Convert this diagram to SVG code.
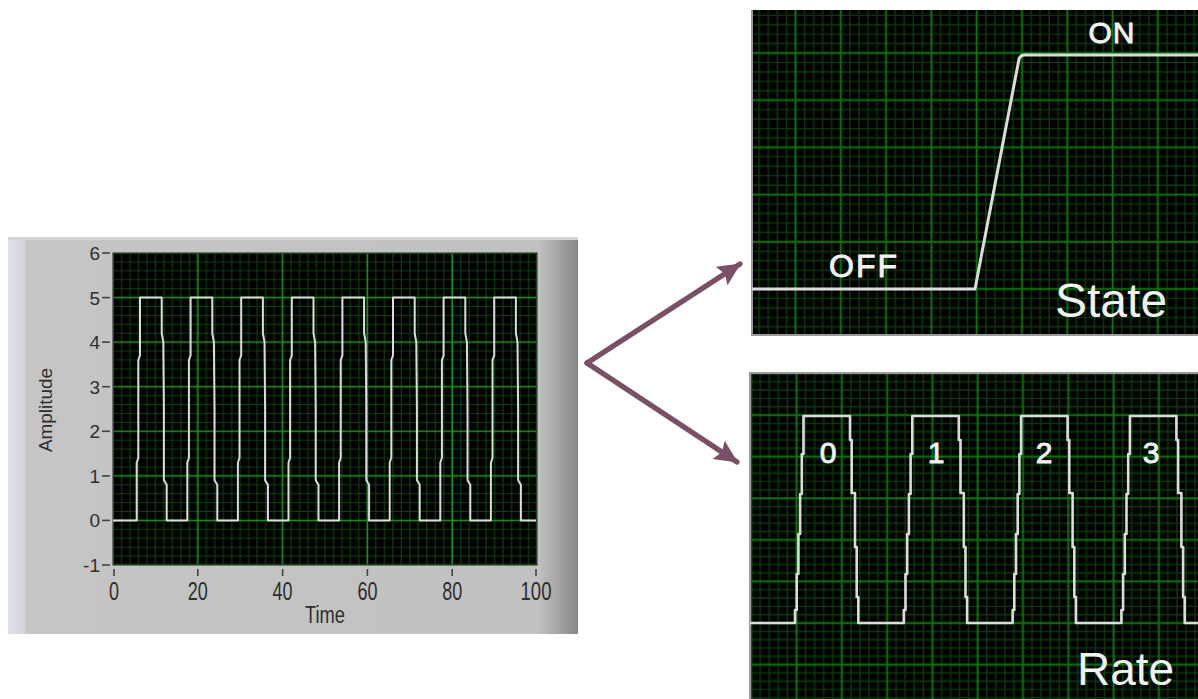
<svg xmlns="http://www.w3.org/2000/svg" width="1198" height="699" viewBox="0 0 1198 699">
<style>
.minor{stroke:#0c3a0c;stroke-width:1.4;fill:none}
.major{stroke:#0b750b;stroke-width:2;fill:none}
.majorL{stroke:#1d961d;stroke-width:1.6;fill:none}
.minorL{stroke:#0f3d0f;stroke-width:1.2;fill:none}
.wave{fill:none;stroke:#dcdcdc;stroke-linejoin:round}
.axis{font-family:"Liberation Sans",Arial,sans-serif;fill:#2e2e2e}
.scope{font-family:"Liberation Sans",Arial,sans-serif;fill:#f2f2f2}
.mid{stroke:#f2f2f2;stroke-width:0.9}
.tick{stroke:#444;stroke-width:1.6}
.conn{fill:none;stroke:#7a5068;stroke-width:5.2;stroke-linecap:round}
</style>
<defs>
<linearGradient id="panelGrad" x1="0" y1="0" x2="1" y2="0">
<stop offset="0" stop-color="#dfe3ea"/>
<stop offset="0.028" stop-color="#d2d5da"/>
<stop offset="0.032" stop-color="#c5c5c5"/>
<stop offset="0.93" stop-color="#c1c1c1"/>
<stop offset="1" stop-color="#888888"/>
</linearGradient>
<pattern id="gridL" patternUnits="userSpaceOnUse" x="108.76" y="248.543" width="84.8" height="44.57">
<rect width="84.8" height="44.57" fill="#000"/>
<path class="minorL" d="M12.72,0V44.57M21.2,0V44.57M29.68,0V44.57M38.16,0V44.57M46.64,0V44.57M55.12,0V44.57M63.6,0V44.57M72.08,0V44.57M80.56,0V44.57M0,13.371H84.8M0,22.285H84.8M0,31.199H84.8M0,40.113H84.8"/>
<path class="majorL" d="M4.24,0V44.57M0,4.457H84.8"/>
</pattern>
<pattern id="gridS" patternUnits="userSpaceOnUse" x="790.97" y="48.28" width="45.3" height="47.2">
<rect width="45.3" height="47.2" fill="#000"/>
<path class="minor" d="M13.59,0V47.2M22.65,0V47.2M31.71,0V47.2M40.77,0V47.2M0,14.16H45.3M0,23.6H45.3M0,33.04H45.3M0,42.48H45.3"/>
<path class="major" d="M4.53,0V47.2M0,4.72H45.3"/>
</pattern>
<pattern id="gridR" patternUnits="userSpaceOnUse" x="791.97" y="410.84" width="45.3" height="41.6">
<rect width="45.3" height="41.6" fill="#000"/>
<path class="minor" d="M13.59,0V41.6M22.65,0V41.6M31.71,0V41.6M40.77,0V41.6M0,12.48H45.3M0,20.8H45.3M0,29.12H45.3M0,37.44H45.3"/>
<path class="major" d="M4.53,0V41.6M0,4.16H45.3"/>
</pattern>
<marker id="arrow" markerUnits="userSpaceOnUse" markerWidth="26" markerHeight="24" refX="22" refY="11" orient="auto">
<path d="M0,0 L23,11 L0,22 L4,11 z" fill="#7a5068"/>
</marker>
</defs>
<rect width="1198" height="699" fill="#ffffff"/>

<g id="amplitude-chart">
<rect x="8" y="237" width="570" height="397" fill="url(#panelGrad)"/>
<rect x="8" y="237" width="570" height="3" fill="#d4d4d4"/>
<rect x="113" y="253" width="424" height="312" fill="url(#gridL)" stroke="#222" stroke-width="1"/>
<path class="wave" stroke-width="2" d="M113,520.4 H136.7
v-57.9 l1.6,-4.5 v-98 l1.7,-4.5 v-57.9 h21.7 v35.6 l1.6,8.9 l0.6,66.9 v71.3 l2.8,4.4 v35.7 h20.6
v-57.9 l1.6,-4.5 v-98 l1.7,-4.5 v-57.9 h21.7 v35.6 l1.6,8.9 l0.6,66.9 v71.3 l2.8,4.4 v35.7 h20.6
v-57.9 l1.6,-4.5 v-98 l1.7,-4.5 v-57.9 h21.7 v35.6 l1.6,8.9 l0.6,66.9 v71.3 l2.8,4.4 v35.7 h20.6
v-57.9 l1.6,-4.5 v-98 l1.7,-4.5 v-57.9 h21.7 v35.6 l1.6,8.9 l0.6,66.9 v71.3 l2.8,4.4 v35.7 h20.6
v-57.9 l1.6,-4.5 v-98 l1.7,-4.5 v-57.9 h21.7 v35.6 l1.6,8.9 l0.6,66.9 v71.3 l2.8,4.4 v35.7 h20.6
v-57.9 l1.6,-4.5 v-98 l1.7,-4.5 v-57.9 h21.7 v35.6 l1.6,8.9 l0.6,66.9 v71.3 l2.8,4.4 v35.7 h20.6
v-57.9 l1.6,-4.5 v-98 l1.7,-4.5 v-57.9 h21.7 v35.6 l1.6,8.9 l0.6,66.9 v71.3 l2.8,4.4 v35.7 h20.6
v-57.9 l1.6,-4.5 v-98 l1.7,-4.5 v-57.9 h21.7 v35.6 l1.6,8.9 l0.6,66.9 v71.3 l2.8,4.4 v35.7 H536"/>
<g class="tick">
<line x1="102" y1="253" x2="110" y2="253"/>
<line x1="102" y1="297.6" x2="110" y2="297.6"/>
<line x1="102" y1="342.1" x2="110" y2="342.1"/>
<line x1="102" y1="386.7" x2="110" y2="386.7"/>
<line x1="102" y1="431.3" x2="110" y2="431.3"/>
<line x1="102" y1="475.9" x2="110" y2="475.9"/>
<line x1="102" y1="520.4" x2="110" y2="520.4"/>
<line x1="102" y1="565" x2="110" y2="565"/>
<line x1="114" y1="569" x2="114" y2="576"/>
<line x1="197.8" y1="569" x2="197.8" y2="576"/>
<line x1="282.6" y1="569" x2="282.6" y2="576"/>
<line x1="367.4" y1="569" x2="367.4" y2="576"/>
<line x1="452.2" y1="569" x2="452.2" y2="576"/>
<line x1="536" y1="569" x2="536" y2="576"/>
</g>
<g class="axis" font-size="19" text-anchor="end">
<text x="100" y="260">6</text>
<text x="100" y="304.6">5</text>
<text x="100" y="349.1">4</text>
<text x="100" y="393.7">3</text>
<text x="100" y="438.3">2</text>
<text x="100" y="482.9">1</text>
<text x="100" y="527.4">0</text>
<text x="100" y="572">-1</text>
</g>
<g class="axis" font-size="25" text-anchor="middle">
<text x="114" y="600" textLength="10" lengthAdjust="spacingAndGlyphs">0</text>
<text x="197.8" y="600" textLength="20" lengthAdjust="spacingAndGlyphs">20</text>
<text x="282.6" y="600" textLength="20" lengthAdjust="spacingAndGlyphs">40</text>
<text x="367.4" y="600" textLength="20" lengthAdjust="spacingAndGlyphs">60</text>
<text x="452.2" y="600" textLength="20" lengthAdjust="spacingAndGlyphs">80</text>
<text x="536" y="600" textLength="31" lengthAdjust="spacingAndGlyphs">100</text>
</g>
<text class="axis" x="325" y="623" font-size="23" text-anchor="middle" textLength="40" lengthAdjust="spacingAndGlyphs">Time</text>
<text class="axis" transform="translate(52,410) rotate(-90)" font-size="18" text-anchor="middle" textLength="84" lengthAdjust="spacingAndGlyphs">Amplitude</text>
</g>

<g id="state-panel">
<rect x="752" y="10" width="446" height="325" fill="url(#gridS)"/>
<path d="M752,10 V335 H1198" fill="none" stroke="#9a9a9a" stroke-width="2"/>
<path class="wave" stroke-width="3" d="M752,289 H975 L1019,59 Q1020.5,55 1024,55 H1198"/>
<text class="scope mid" x="1112" y="43" font-size="30" text-anchor="middle" letter-spacing="1">ON</text>
<text class="scope mid" x="864" y="277" font-size="32" text-anchor="middle" letter-spacing="2">OFF</text>
<text class="scope" x="1055" y="317" font-size="48">State</text>
</g>

<g id="rate-panel">
<rect x="750" y="373" width="448" height="326" fill="url(#gridR)"/>
<path d="M750,699 V373 H1198" fill="none" stroke="#9a9a9a" stroke-width="2"/>
<path class="wave" stroke-width="2.6" d="M750,623 H795
v-13 h1.7 v-36 h1.7 v-40 h1.7 v-40 h1.7 v-40 h1.7 v-38 h46.5 v24 h1.7 v53 h3.3 v54 h1.7 v50 h1.6 v26 h45.5
v-13 h1.7 v-36 h1.7 v-40 h1.7 v-40 h1.7 v-40 h1.7 v-38 h46.5 v24 h1.7 v53 h3.3 v54 h1.7 v50 h1.6 v26 h45.5
v-13 h1.7 v-36 h1.7 v-40 h1.7 v-40 h1.7 v-40 h1.7 v-38 h46.5 v24 h1.7 v53 h3.3 v54 h1.7 v50 h1.6 v26 h45.5
v-13 h1.7 v-36 h1.7 v-40 h1.7 v-40 h1.7 v-40 h1.7 v-38 h46.5 v24 h1.7 v53 h3.3 v54 h1.7 v50 h1.6 v26 H1198"/>
<g class="scope mid" font-size="30" text-anchor="middle">
<text x="828" y="463">0</text>
<text x="936" y="463">1</text>
<text x="1044" y="463">2</text>
<text x="1151" y="463">3</text>
</g>
<text class="scope" x="1077" y="685" font-size="46">Rate</text>
</g>

<g id="connectors">
<path class="conn" d="M587,363 L740,264" marker-end="url(#arrow)"/>
<path class="conn" d="M587,363 L737,462" marker-end="url(#arrow)"/>
</g>
</svg>
